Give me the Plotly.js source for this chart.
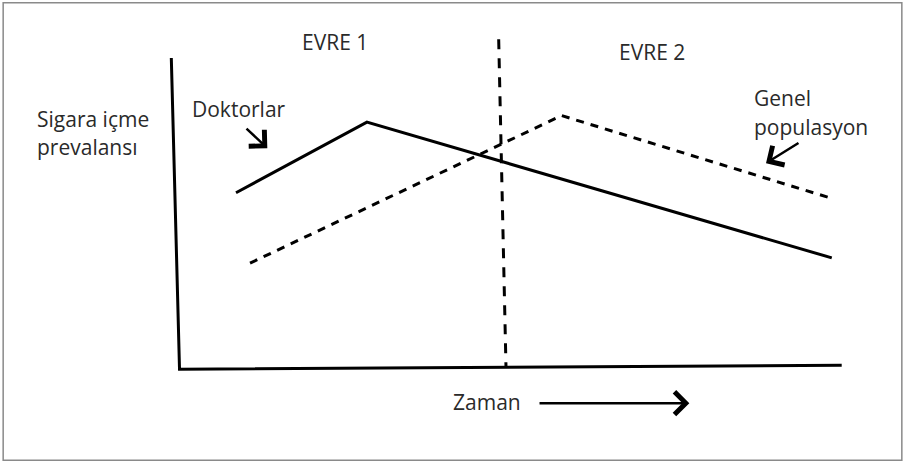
<!DOCTYPE html>
<html>
<head>
<meta charset="utf-8">
<script src="https://cdn.plot.ly/plotly-3.0.1.min.js"></script>
<style>html,body{margin:0;padding:0;background:#fff;}#chart{width:905px;height:464px;}</style>
</head>
<body>
<div id="chart"></div>
<script>
// Schematic values (time units 0-10, prevalence units 0-10)
var doctorTime = [0.853, 2.83, 9.85];
var doctorPrev = [5.67, 7.94, 3.58];
var publicTime = [1.065, 5.77, 9.85];
var publicPrev = [3.41, 8.15, 5.49];
var phaseTime = [4.82, 4.93];
var phasePrev = [10.60, 0.106];
var axesTime = [-0.124, 0, 10];
var axesPrev = [10, 0, 0.128];
var labelPhase1 = 'EVRE 1';
var labelPhase2 = 'EVRE 2';
var labelDoctors = 'Doktorlar';
var labelPublic1 = 'Genel';
var labelPublic2 = 'populasyon';
var labelY1 = 'Sigara içme';
var labelY2 = 'prevalansı';
var labelX = 'Zaman';

var font = {family: '"Open Sans", "Noto Sans", sans-serif', size: 21, color: '#2a2a2a'};

var traces = [
  {x: axesTime, y: axesPrev, mode: 'lines', line: {color: '#000', width: 3}, hoverinfo: 'skip'},
  {x: phaseTime, y: phasePrev, mode: 'lines', line: {color: '#000', width: 3, dash: '10px,9px'}, hoverinfo: 'skip'},
  {x: doctorTime, y: doctorPrev, mode: 'lines', line: {color: '#000', width: 3}, hoverinfo: 'skip'},
  {x: publicTime, y: publicPrev, mode: 'lines', line: {color: '#000', width: 3, dash: '8px,7px'}, hoverinfo: 'skip'}
];

function txt(t, x, y, anchor) {
  return {text: t, x: x, y: y, xref: 'x', yref: 'y', showarrow: false, xanchor: anchor, yanchor: 'middle', font: font};
}
function arr(x0, y0, x1, y1) {
  return {text: '', x: x1, y: y1, ax: x0, ay: y0, xref: 'x', yref: 'y', axref: 'x', ayref: 'y',
          showarrow: true, arrowhead: 4, arrowsize: 1.75, arrowwidth: 2.5, arrowcolor: '#000', standoff: 0, startstandoff: 0};
}

var layout = {
  width: 905, height: 464,
  margin: {l: 0, r: 0, t: 0, b: 0},
  paper_bgcolor: '#fff', plot_bgcolor: '#fff',
  showlegend: false,
  xaxis: {range: [-2.711, 10.956], visible: false, fixedrange: true},
  yaxis: {range: [-3.042, 11.863], visible: false, fixedrange: true},
  shapes: [
    {type: 'rect', xref: 'paper', yref: 'paper', x0: 0.0035, x1: 0.9965, y0: 0.008, y1: 0.994,
     line: {color: '#8a8a8a', width: 1.5}}
  ],
  annotations: [
    txt(labelPhase1, 2.348, 10.50, 'center'),
    txt(labelPhase2, 7.135, 10.18, 'center'),
    txt(labelDoctors, 0.159, 8.36, 'left'),
    txt(labelY1, -2.183, 8.04, 'left'),
    txt(labelY2, -2.183, 7.157, 'left'),
    txt(labelPublic1, 8.645, 8.73, 'left'),
    txt(labelPublic2, 8.645, 7.77, 'left'),
    txt(labelX, 4.10, -1.066, 'left'),
    arr(0.989, 7.78, 1.326, 7.10),
    arr(9.37, 7.30, 8.857, 6.62),
    arr(5.414, -1.09, 7.699, -1.09)
  ]
};

Plotly.newPlot('chart', traces, layout, {staticPlot: true, displayModeBar: false});
</script>
</body>
</html>
